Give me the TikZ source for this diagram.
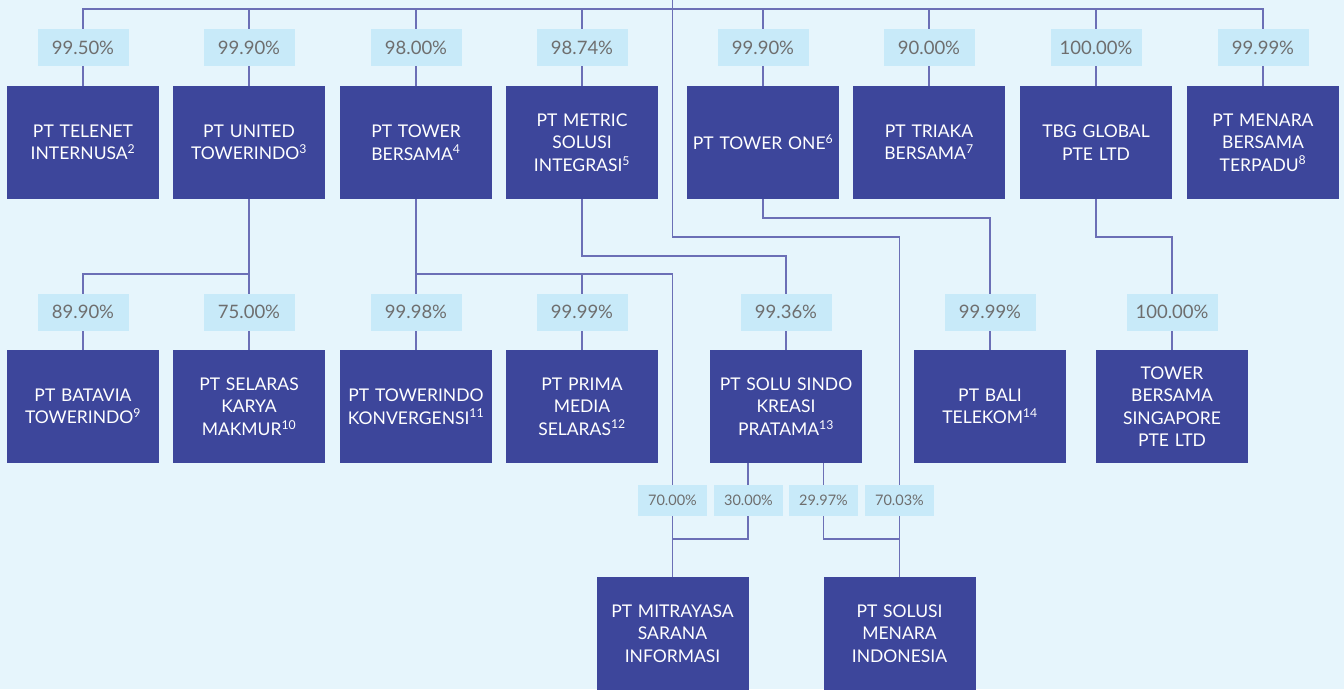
\documentclass[tikz,border=0pt]{standalone}
\usepackage{fontspec}
\setmainfont{Lato}
\definecolor{bgc}{HTML}{E6F5FC}
\definecolor{boxc}{HTML}{3D469B}
\definecolor{labc}{HTML}{C8EAF9}
\definecolor{linec}{HTML}{6B6FB6}
\definecolor{txtc}{HTML}{6E6E6E}
\pgfdeclarelayer{bg}
\pgfsetlayers{bg,main}
\begin{document}
\begin{tikzpicture}[x=1pt,y=-1pt,
 co/.style={draw=linec, line width=1.4pt},
 orgbox/.style={fill=boxc, text=white, minimum width=152pt, minimum height=113pt, inner sep=0pt, align=center, text width=150pt, font=\fontsize{17.5}{22.5}\selectfont},
 pct/.style={fill=labc, text=txtc, minimum width=91pt, minimum height=37pt, inner sep=0pt, font=\fontsize{18.5}{20}\selectfont},
 pcts/.style={fill=labc, text=txtc, minimum width=69pt, minimum height=31pt, inner sep=0pt, font=\fontsize{14.5}{16}\selectfont}]
\useasboundingbox (0,0) rectangle (1344,689);
% top row
\node[orgbox] (t1) at (83,142.5) {PT TELENET\\INTERNUSA\textsuperscript{2}};
\node[orgbox] (t2) at (249,142.5) {PT UNITED\\TOWERINDO\textsuperscript{3}};
\node[orgbox] (t3) at (416,142.5) {PT TOWER\\BERSAMA\textsuperscript{4}};
\node[orgbox] (t4) at (582,142.5) {PT METRIC\\SOLUSI\\INTEGRASI\textsuperscript{5}};
\node[orgbox] (t5) at (763,142.5) {PT TOWER ONE\textsuperscript{6}};
\node[orgbox] (t6) at (929,142.5) {PT TRIAKA\\BERSAMA\textsuperscript{7}};
\node[orgbox] (t7) at (1096,142.5) {TBG GLOBAL\\PTE LTD};
\node[orgbox] (t8) at (1263,142.5) {PT MENARA\\BERSAMA\\TERPADU\textsuperscript{8}};
\node[pct] (p1) at (83,47.5) {99.50\%};
\node[pct] (p2) at (249,47.5) {99.90\%};
\node[pct] (p3) at (416,47.5) {98.00\%};
\node[pct] (p4) at (582,47.5) {98.74\%};
\node[pct] (p5) at (763,47.5) {99.90\%};
\node[pct] (p6) at (929,47.5) {90.00\%};
\node[pct] (p7) at (1096,47.5) {100.00\%};
\node[pct] (p8) at (1263,47.5) {99.99\%};
% second row
\node[orgbox] (s1) at (83,406.5) {PT BATAVIA\\TOWERINDO\textsuperscript{9}};
\node[orgbox] (s2) at (249,406.5) {PT SELARAS\\KARYA\\MAKMUR\textsuperscript{10}};
\node[orgbox] (s3) at (416,406.5) {PT TOWERINDO\\KONVERGENSI\textsuperscript{11}};
\node[orgbox] (s4) at (582,406.5) {PT PRIMA\\MEDIA\\SELARAS\textsuperscript{12}};
\node[orgbox] (s5) at (786,406.5) {PT SOLU SINDO\\KREASI\\PRATAMA\textsuperscript{13}};
\node[orgbox] (s6) at (990,406.5) {PT BALI\\TELEKOM\textsuperscript{14}};
\node[orgbox] (s7) at (1172,406.5) {TOWER\\BERSAMA\\SINGAPORE\\PTE LTD};
\node[pct] (q1) at (83,312) {89.90\%};
\node[pct] (q2) at (249,312) {75.00\%};
\node[pct] (q3) at (416,312) {99.98\%};
\node[pct] (q4) at (582,312) {99.99\%};
\node[pct] (q5) at (786,312) {99.36\%};
\node[pct] (q6) at (990,312) {99.99\%};
\node[pct] (q7) at (1172,312) {100.00\%};
% bottom row
\node[orgbox] (m1) at (672.5,633.5) {PT MITRAYASA\\SARANA\\INFORMASI};
\node[orgbox] (m2) at (899.5,633.5) {PT SOLUSI\\MENARA\\INDONESIA};
\node[pcts] (r1) at (672.5,500.5) {70.00\%};
\node[pcts] (r2) at (748.5,500.5) {30.00\%};
\node[pcts] (r3) at (823.5,500.5) {29.97\%};
\node[pcts] (r4) at (899.5,500.5) {70.03\%};
% helper coordinates
\coordinate (top) at (672.5,0);
\coordinate (tb) at (0,9);
\coordinate (y218) at (0,218);
\coordinate (y237) at (0,237);
\coordinate (y256) at (0,256);
\coordinate (y274) at (0,274);
\coordinate (y539) at (0,539);
\begin{pgfonlayer}{bg}
\fill[bgc] (0,0) rectangle (1344,689);
\draw[co] (top) -- (top |- y237) -| (m2.north);
\draw[co] (t1.north) -- (t1.north |- tb) -- (t8.north |- tb) -- (t8.north);
\foreach \n in {t2,t3,t4,t5,t6,t7} \draw[co] (\n.north) -- (\n.north |- tb);
\draw[co] (t2.south) -- (s2.north);
\draw[co] (s1.north) |- (t2.south |- y274);
\draw[co] (t3.south) -- (s3.north);
\draw[co] (t3.south |- y274) -| (m1.north);
\draw[co] (s4.north) -- (s4.north |- y274);
\draw[co] (t4.south) |- (s5.north |- y256) -- (s5.north);
\draw[co] (t5.south) |- (s6.north |- y218) -- (s6.north);
\draw[co] (t7.south) |- (s7.north |- y237) -- (s7.north);
\draw[co] ([xshift=-38pt]s5.south) |- (m1.north |- y539);
\draw[co] ([xshift=37.5pt]s5.south) |- (m2.north |- y539);
\end{pgfonlayer}
\end{tikzpicture}
\end{document}
